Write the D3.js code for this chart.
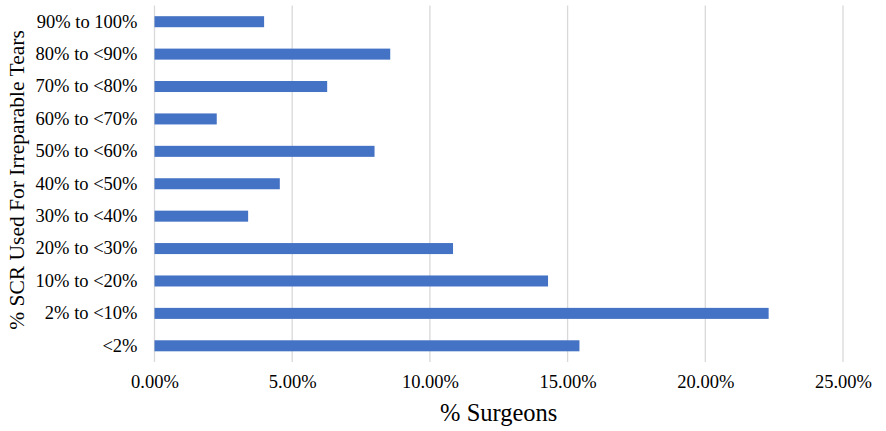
<!DOCTYPE html>
<html>
<head>
<meta charset="utf-8">
<script src="https://cdn.jsdelivr.net/npm/d3@7"></script>
<style>
  body { margin: 0; background: #fff; }
  text { font-family: "Liberation Serif", "Times New Roman", serif; fill: #000; }
</style>
</head>
<body>
<div id="chart"></div>
<script>
// categories, top to bottom as drawn
var categories = ["90% to 100%", "80% to <90%", "70% to <80%", "60% to <70%", "50% to <60%",
                  "40% to <50%", "30% to <40%", "20% to <30%", "10% to <20%", "2% to <10%", "<2%"];
// % surgeons (fractions)
var values = [0.0398, 0.0856, 0.0627, 0.0226, 0.0799, 0.0455, 0.0340, 0.1084, 0.1429, 0.2230, 0.1543];
var xTicks = [0, 0.05, 0.10, 0.15, 0.20, 0.25];

var width = 886, height = 431;
// plot area (note: "top" is taken by window.top, so use other names)
var plotLeft = 154.5, plotRight = 843, plotTop = 5.5, plotBottom = 362;

var svg = d3.select("#chart").append("svg")
    .attr("width", width)
    .attr("height", height);

var x = d3.scaleLinear().domain([0, 0.25]).range([plotLeft, plotRight]);
var y = d3.scaleBand().domain(categories).range([plotTop, plotBottom]).paddingInner(0.66).paddingOuter(0.33);

// gridlines
svg.append("g").selectAll("line")
    .data(xTicks)
    .enter().append("line")
    .attr("x1", d => x(d)).attr("x2", d => x(d))
    .attr("y1", plotTop).attr("y2", plotBottom)
    .attr("stroke", "#d9d9d9")
    .attr("stroke-width", 1.3);

// bars
svg.append("g").selectAll("rect")
    .data(values)
    .enter().append("rect")
    .attr("x", x(0))
    .attr("y", (d, i) => y(categories[i]))
    .attr("width", d => x(d) - x(0))
    .attr("height", y.bandwidth())
    .attr("fill", "#4472c4");

// x axis labels
var xAxis = d3.axisBottom(x).tickValues(xTicks).tickFormat(d3.format(".2%")).tickSize(0).tickPadding(13);
var gx = svg.append("g").attr("transform", "translate(0," + plotBottom + ")").call(xAxis)
    .attr("font-family", "Liberation Serif").attr("font-size", 18.5);
gx.select(".domain").remove();

// y axis labels
var yAxis = d3.axisLeft(y).tickSize(0).tickPadding(17);
var gy = svg.append("g").attr("transform", "translate(" + plotLeft + ",0)").call(yAxis)
    .attr("font-family", "Liberation Serif").attr("font-size", 18.5);
gy.select(".domain").remove();

// axis titles
svg.append("text")
    .attr("x", (plotLeft + plotRight) / 2)
    .attr("y", 421)
    .attr("text-anchor", "middle")
    .style("font-size", "24.5px")
    .text("% Surgeons");

svg.append("text")
    .attr("transform", "translate(24," + 180 + ") rotate(-90)")
    .attr("text-anchor", "middle")
    .style("font-size", "21.5px")
    .text("% SCR Used For Irreparable Tears");
</script>
</body>
</html>
